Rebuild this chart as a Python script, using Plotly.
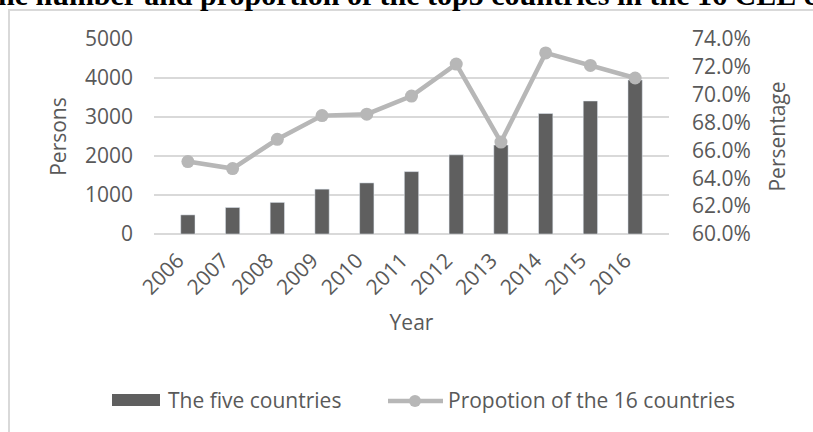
import plotly.graph_objects as go

years = ["2006", "2007", "2008", "2009", "2010", "2011", "2012", "2013", "2014", "2015", "2016"]
five_countries = [490, 680, 810, 1150, 1310, 1600, 2030, 2280, 3090, 3410, 3950]
proportion_16 = [65.2, 64.7, 66.8, 68.5, 68.6, 69.9, 72.2, 66.6, 73.0, 72.1, 71.2]

bar_name = "The five countries"
line_name = "Propotion of the 16 countries"
title_text = "The number and proportion of the top5 countries in the 16 CEE countries"

W, H = 813, 432
L, R, T, B = 154, 144, 39, 198
PW = W - L - R
PH = H - T - B

def px(x):
    return (x - L) / PW

def py(y):
    return (H - B - y) / PH

TXT = "#595959"
BAR = "#5f5f5f"
LINE = "#b7b7b7"
GRID = "#d9d9d9"
FONT = "Open Sans"
FS = 21

fig = go.Figure()
fig.add_trace(go.Bar(x=years, y=five_countries, name=bar_name, marker_color=BAR,
                     showlegend=False, yaxis="y"))
fig.add_trace(go.Scatter(x=years, y=proportion_16, name=line_name, mode="lines+markers",
                         line=dict(color=LINE, width=4.5), marker=dict(color=LINE, size=13),
                         showlegend=False, yaxis="y2"))

fig.update_layout(
    width=W, height=H,
    margin=dict(l=L, r=R, t=T, b=B),
    paper_bgcolor="white", plot_bgcolor="white",
    font=dict(family=FONT, color=TXT, size=FS),
    bargap=0.68,
    xaxis=dict(tickangle=-45, showgrid=False, showline=False, zeroline=False,
               tickfont=dict(size=FS, color=TXT), ticks="", ticklabelstandoff=9,
               ticklabelshift=-10,
               title=dict(text="Year", font=dict(size=FS, color=TXT), standoff=16)),
    yaxis=dict(range=[0, 5000], dtick=1000, showgrid=True, gridcolor=GRID, gridwidth=1.5,
               zeroline=True, zerolinecolor=GRID, zerolinewidth=1.5, showline=False,
               tickfont=dict(size=FS, color=TXT), ticks="", ticklabelstandoff=20,
               title=dict(text="Persons", font=dict(size=FS, color=TXT), standoff=12)),
    yaxis2=dict(range=[60, 74], dtick=2, overlaying="y", side="right", showgrid=False,
                zeroline=False, showline=False, ticksuffix="%", tickformat=".1f",
                tickfont=dict(size=FS, color=TXT), ticks="", ticklabelstandoff=22,
                title=dict(text="Persentage", font=dict(size=FS, color=TXT), standoff=20)),
)

shapes = [
    # chart frame
    dict(type="rect", xref="paper", yref="paper", x0=px(9), x1=px(900), y0=py(10), y1=py(600),
         line=dict(color=GRID, width=2), fillcolor="rgba(0,0,0,0)", layer="below"),
    # legend swatches
    dict(type="rect", xref="paper", yref="paper", x0=px(112), x1=px(160), y0=py(394), y1=py(406),
         line=dict(width=0), fillcolor=BAR),
    dict(type="line", xref="paper", yref="paper", x0=px(388), x1=px(443), y0=py(401), y1=py(401),
         line=dict(color=LINE, width=4.5)),
    dict(type="circle", xref="paper", yref="paper", x0=px(409), x1=px(421), y0=py(395), y1=py(407),
         line=dict(width=0), fillcolor=LINE),
]
fig.update_layout(shapes=shapes)

fig.add_annotation(text=bar_name, xref="paper", yref="paper", x=px(166), y=py(400),
                   xanchor="left", yanchor="middle", showarrow=False,
                   font=dict(size=FS, color=TXT, family=FONT))
fig.add_annotation(text=line_name, xref="paper", yref="paper", x=px(446), y=py(400),
                   xanchor="left", yanchor="middle", showarrow=False,
                   font=dict(size=FS, color=TXT, family=FONT))
fig.add_annotation(text="<b>" + title_text + "</b>", xref="paper", yref="paper", x=px(-24), y=py(13),
                   xanchor="left", yanchor="bottom", showarrow=False,
                   font=dict(size=30, color="black", family="Liberation Serif"))

fig.write_html("out.html")
